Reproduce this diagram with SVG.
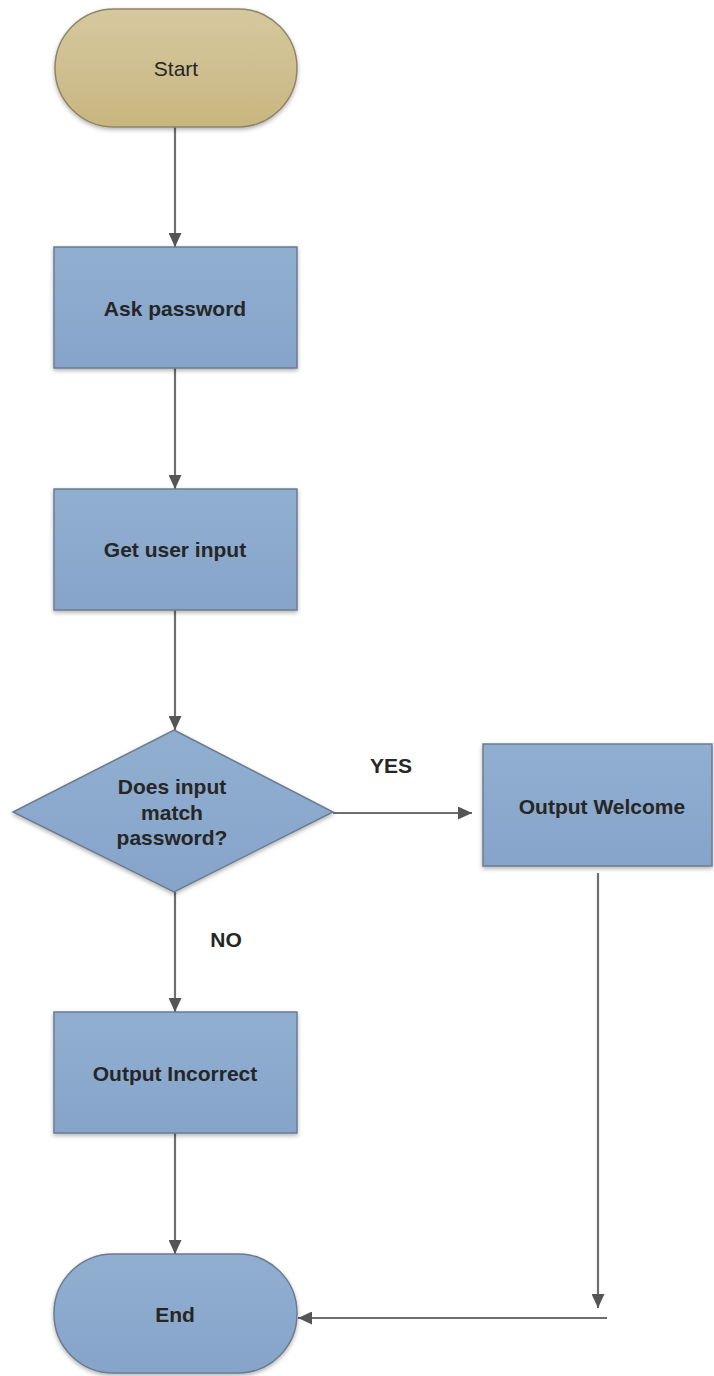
<svg xmlns="http://www.w3.org/2000/svg" width="714" height="1376" viewBox="0 0 714 1376">
<defs>
<linearGradient id="gTan" x1="0" y1="0" x2="0" y2="1">
<stop offset="0" stop-color="#d6c89f"/>
<stop offset="1" stop-color="#c8b680"/>
</linearGradient>
<linearGradient id="gBlue" x1="0" y1="0" x2="0" y2="1">
<stop offset="0" stop-color="#90afd0"/>
<stop offset="1" stop-color="#86a4ca"/>
</linearGradient>
<filter id="sh" x="-10%" y="-10%" width="120%" height="125%">
<feDropShadow dx="0" dy="2" stdDeviation="2" flood-color="#000" flood-opacity="0.3"/>
</filter>
<marker id="ah" viewBox="0 0 14 13" refX="14" refY="6.5" markerWidth="14" markerHeight="13" markerUnits="userSpaceOnUse" orient="auto">
<path d="M0,0 L14,6.5 L0,13 Z" fill="#555"/>
</marker>
</defs>
<style>
.tan{fill:url(#gTan);stroke:#8f8566;stroke-width:1.5;filter:url(#sh)}
.blue{fill:url(#gBlue);stroke:#6c7b8e;stroke-width:1.5;filter:url(#sh)}
.lbl{font-family:"Liberation Sans",Arial,sans-serif;font-size:21px;fill:#262626;text-anchor:middle}
.b{font-weight:bold}
.con{stroke:#6e6e6e;stroke-width:2.2;fill:none;marker-end:url(#ah)}
</style>
<g id="connectors">
<line class="con" x1="175" y1="127" x2="175" y2="247"/>
<line class="con" x1="175" y1="368" x2="175" y2="489"/>
<line class="con" x1="175" y1="610" x2="175" y2="730"/>
<line class="con" x1="175" y1="892" x2="175" y2="1012"/>
<line class="con" x1="175" y1="1133" x2="175" y2="1254"/>
<line class="con" x1="333" y1="813" x2="472" y2="813"/>
<line class="con" x1="598" y1="873" x2="598" y2="1308"/>
<line class="con" x1="607" y1="1318" x2="298" y2="1318"/>
<text class="lbl b" x="391" y="773">YES</text>
<text class="lbl b" x="226" y="947">NO</text>
</g>
<g id="start">
<rect class="tan" x="55" y="9" width="242" height="118" rx="59" ry="59"/>
<text class="lbl" x="176" y="76">Start</text>
</g>
<g id="ask">
<rect class="blue" x="54" y="247" width="243" height="121"/>
<text class="lbl b" x="175" y="316">Ask password</text>
</g>
<g id="get">
<rect class="blue" x="54" y="489" width="243" height="121"/>
<text class="lbl b" x="175" y="557">Get user input</text>
</g>
<g id="decision">
<polygon class="blue" points="174,730 333,812 174,892 13,812"/>
<text class="lbl b" x="172" y="794">Does input</text>
<text class="lbl b" x="172" y="820">match</text>
<text class="lbl b" x="172" y="845">password?</text>
</g>
<g id="welcome">
<rect class="blue" x="483" y="744" width="229" height="122"/>
<text class="lbl b" x="602" y="814">Output Welcome</text>
</g>
<g id="incorrect">
<rect class="blue" x="54" y="1012" width="243" height="121"/>
<text class="lbl b" x="175" y="1081">Output Incorrect</text>
</g>
<g id="end">
<rect class="blue" x="54" y="1254" width="243" height="119" rx="59" ry="59"/>
<text class="lbl b" x="175" y="1322">End</text>
</g>
</svg>
